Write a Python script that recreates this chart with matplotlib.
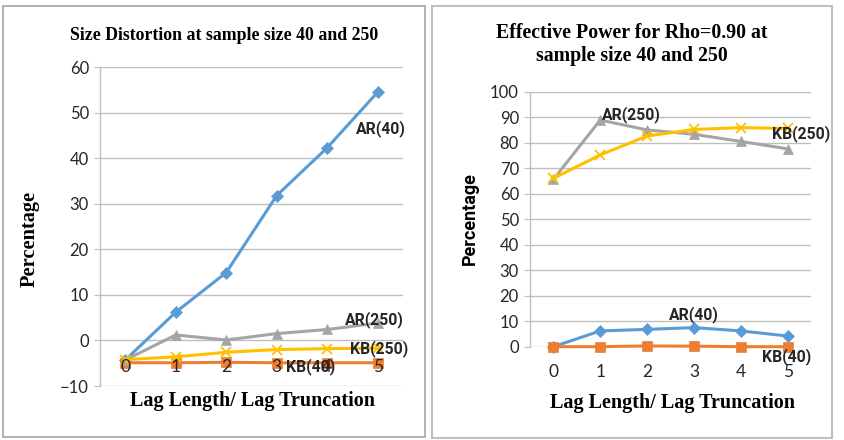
import matplotlib
matplotlib.use("Agg")
import matplotlib.pyplot as plt
from matplotlib.patches import Rectangle

lags = [0, 1, 2, 3, 4, 5]
lag_labels = ["0", "1", "2", "3", "4", "5"]

# Size distortion (left)
size_ar40 = [-4.3, 6.2, 14.9, 31.8, 42.3, 54.5]
size_kb40 = [-4.9, -4.9, -4.8, -4.9, -4.9, -4.9]
size_ar250 = [-4.3, 1.2, 0.1, 1.5, 2.4, 3.8]
size_kb250 = [-4.2, -3.6, -2.6, -2.0, -1.8, -1.7]

# Effective power (right)
pow_ar40 = [0.0, 6.2, 6.8, 7.5, 6.2, 4.2]
pow_kb40 = [0.0, 0.0, 0.3, 0.2, 0.0, 0.0]
pow_ar250 = [65.7, 89.0, 85.1, 83.4, 80.6, 77.7]
pow_kb250 = [66.1, 75.3, 82.7, 85.3, 86.0, 85.7]

series_names = ["AR(40)", "KB(40)", "AR(250)", "KB(250)"]
colors = ["#5B9BD5", "#ED7D31", "#A5A5A5", "#FFC000"]
markers = ["D", "s", "^", "x"]
msizes = [6, 7.5, 7.5, 7.5]

W, H = 844, 440
fig = plt.figure(figsize=(W / 100, H / 100), dpi=100)

def fx(px):
    return px / W

def fy(py):
    return 1 - py / H

# panel frames
fig.patches.append(Rectangle((fx(2.5), fy(436.5)), fx(425 - 2.5), (436.5 - 6.5) / H,
                             transform=fig.transFigure, fill=False, ec="#A6A6A6", lw=1.2))
fig.patches.append(Rectangle((fx(432), fy(437.5)), fx(832 - 432), (437.5 - 6.5) / H,
                             transform=fig.transFigure, fill=False, ec="#BFBFBF", lw=1.5))

tick_font = "Lato"
bold_font = "Roboto"
grid_c = "#BFBFBF"

def setup(ax, ylo, yhi, step, label_off):
    ax.set_xlim(-0.5, 5.5)
    ax.set_ylim(ylo, yhi)
    ax.set_yticks(range(ylo, yhi + 1, step))
    ax.yaxis.grid(True, color=grid_c, lw=1.0)
    ax.set_axisbelow(True)
    for s in ["top", "right", "bottom"]:
        ax.spines[s].set_visible(False)
    ax.spines["left"].set_color(grid_c)
    ax.spines["left"].set_linewidth(1.0)
    ax.tick_params(axis="y", length=4, color=grid_c, labelsize=12, pad=4, labelcolor="#262626")
    for t in ax.get_yticklabels():
        t.set_fontfamily(tick_font)
    ax.set_xticks([])
    for x, lab in zip(lags, lag_labels):
        ax.annotate(lab, (x, 0), xytext=(0, label_off), textcoords="offset points",
                    ha="center", va="center", fontsize=12.5, family=tick_font,
                    color="#262626", zorder=10, annotation_clip=False)

def draw(ax, data):
    for vals, c, m, ms in zip(data, colors, markers, msizes):
        ax.plot(lags, vals, color=c, lw=2.2, marker=m, ms=ms,
                mew=1.3 if m == "x" else 0.5, mec=c, mfc=c, clip_on=False, zorder=3)

lab_kw = dict(ha="center", va="center", fontsize=11.3, fontweight="bold", family=bold_font,
              color="#262626", zorder=11)

# Left chart
ax1 = fig.add_axes([fx(100), fy(386), fx(403 - 100), (386 - 67) / H])
setup(ax1, -10, 60, 10, -19)
draw(ax1, [size_ar40, size_kb40, size_ar250, size_kb250])
ax1.text(5.06, 46.4, "AR(40)", **lab_kw)
ax1.text(4.93, 4.5, "AR(250)", **lab_kw)
ax1.text(5.02, -1.7, "KB(250)", **lab_kw)
ax1.text(3.68, -5.8, "KB(40)", **lab_kw)

fig.text(fx(224), fy(36), "Size Distortion at sample size 40 and 250", ha="center", va="center",
         fontsize=12.8, fontweight="bold", family="Liberation Serif")
fig.text(fx(30), fy(239), "Percentage", ha="center", va="center", rotation=90,
         fontsize=14.7, fontweight="bold", family="Liberation Serif")
fig.text(fx(253), fy(401), "Lag Length/ Lag Truncation", ha="center", va="center",
         fontsize=14.5, fontweight="bold", family="Liberation Serif")

# Right chart
ax2 = fig.add_axes([fx(530), fy(346.7), fx(811 - 530), (346.7 - 92) / H])
setup(ax2, 0, 100, 10, -18)
draw(ax2, [pow_ar40, pow_kb40, pow_ar250, pow_kb250])
ax2.text(1.67, 91.2, "AR(250)", **lab_kw)
ax2.text(5.28, 83.8, "KB(250)", **lab_kw)
ax2.text(2.99, 12.7, "AR(40)", **lab_kw)
ax2.text(4.98, -3.7, "KB(40)", **lab_kw)

fig.text(fx(632), fy(33), "Effective Power for Rho=0.90 at", ha="center", va="center",
         fontsize=14.3, fontweight="bold", family="Liberation Serif")
fig.text(fx(632), fy(56), "sample size 40 and 250", ha="center", va="center",
         fontsize=14.3, fontweight="bold", family="Liberation Serif")
fig.text(fx(470), fy(219), "Percentage", ha="center", va="center", rotation=90,
         fontsize=13, fontweight="bold", family=bold_font)
fig.text(fx(673), fy(403), "Lag Length/ Lag Truncation", ha="center", va="center",
         fontsize=14.5, fontweight="bold", family="Liberation Serif")

fig.savefig("out.png", dpi=100)
